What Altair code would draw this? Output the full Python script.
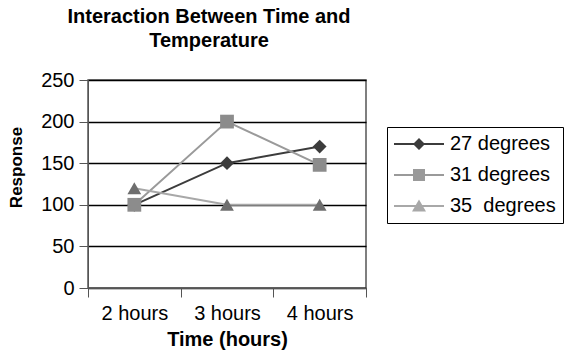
import altair as alt
import pandas as pd

times = ["2 hours", "3 hours", "4 hours"]
series = ["27 degrees", "31 degrees", "35\u00a0 degrees"]
v27 = [100, 150, 170]
v31 = [100, 200, 148]
v35 = [120, 100, 100]

line_colors = ["#3c3c3c", "#9a9a9a", "#a8a8a8"]
marker_colors = ["#3c3c3c", "#8c8c8c", "#6e6e6e"]
marker_shapes = ["diamond", "square", "triangle-up"]

# legend glyphs: a horizontal bar with the marker in the middle
legend_shapes = [
    "M-2.5,-0.09H2.5V0.09H-2.5Z M0,-0.6L0.6,0L0,0.6L-0.6,0Z",
    "M-2.5,-0.09H2.5V0.09H-2.5Z M-0.6,-0.6H0.6V0.6H-0.6Z",
    "M-2.5,-0.09H2.5V0.09H-2.5Z M0,-0.65L0.7,0.55L-0.7,0.55Z",
]

rows = []
for s, vals in zip(series, [v27, v31, v35]):
    for t, v in zip(times, vals):
        rows.append({"time": t, "series": s, "value": v})
df = pd.DataFrame(rows)

FONT = "Liberation Sans"

x = alt.X("time:N", sort=times, title="Time (hours)",
          scale=alt.Scale(paddingInner=0, paddingOuter=0),
          axis=alt.Axis(labelAngle=0, tickBand="extent", grid=False,
                        domainColor="#555555", tickColor="#555555", tickSize=9,
                        labelPadding=6, labelFontSize=20, labelColor="black",
                        titleFontSize=20, titleColor="black", titlePadding=6,
                        titleFontWeight="bold"))
y = alt.Y("value:Q", title="Response",
          scale=alt.Scale(domain=[0, 250], nice=False),
          axis=alt.Axis(values=[0, 50, 100, 150, 200, 250], grid=True,
                        gridColor="black", gridWidth=1.5,
                        domainColor="#555555", tickColor="#555555", tickSize=9,
                        labelPadding=5, labelFontSize=20, labelColor="black",
                        titleFontSize=17, titleColor="black", titleFontWeight="bold",
                        titleX=-67, titleY=87, titleBaseline="alphabetic"))

lines = alt.Chart(df).mark_line(strokeWidth=2).encode(
    x=x, y=y,
    color=alt.Color("series:N", scale=alt.Scale(domain=series, range=line_colors), legend=None),
    detail="series:N",
)

points = alt.Chart(df).mark_point(filled=True, opacity=1, size=190, strokeWidth=0).encode(
    x="time:N", y="value:Q",
    color=alt.Color("series:N", scale=alt.Scale(domain=series, range=marker_colors), legend=None),
    shape=alt.Shape("series:N", scale=alt.Scale(domain=series, range=marker_shapes), legend=None),
)

leg = dict(title=None, orient="none", legendX=299, legendY=47,
           strokeColor="black", padding=7, symbolSize=400, symbolOffset=15,
           labelFontSize=20, labelColor="black", labelFont=FONT,
           labelOffset=21, rowPadding=11, symbolStrokeWidth=0)

legend_layer = alt.Chart(df).transform_filter("false").mark_point(
    filled=True, opacity=1, strokeWidth=0
).encode(
    x="time:N", y="value:Q",
    color=alt.Color("series:N", scale=alt.Scale(domain=series, range=line_colors),
                    legend=alt.Legend(**leg)),
    shape=alt.Shape("series:N", scale=alt.Scale(domain=series, range=legend_shapes),
                    legend=alt.Legend(**leg)),
)

chart = alt.layer(lines, points, legend_layer).resolve_scale(
    color="independent", shape="independent"
).properties(
    width=278, height=208,
    autosize=alt.AutoSizeParams(type="none"),
    padding={"left": 88, "top": 80, "right": 198, "bottom": 69},
    title=alt.TitleParams(text=["Interaction Between Time and", "Temperature"],
                          fontSize=20, font=FONT, fontWeight="bold", color="black",
                          anchor="middle", dx=-18, offset=19, lineHeight=24),
).configure(font=FONT).configure_view(stroke="#555555", strokeWidth=1.5)

chart.save("out.html", embed_options={"renderer": "svg", "actions": False})
